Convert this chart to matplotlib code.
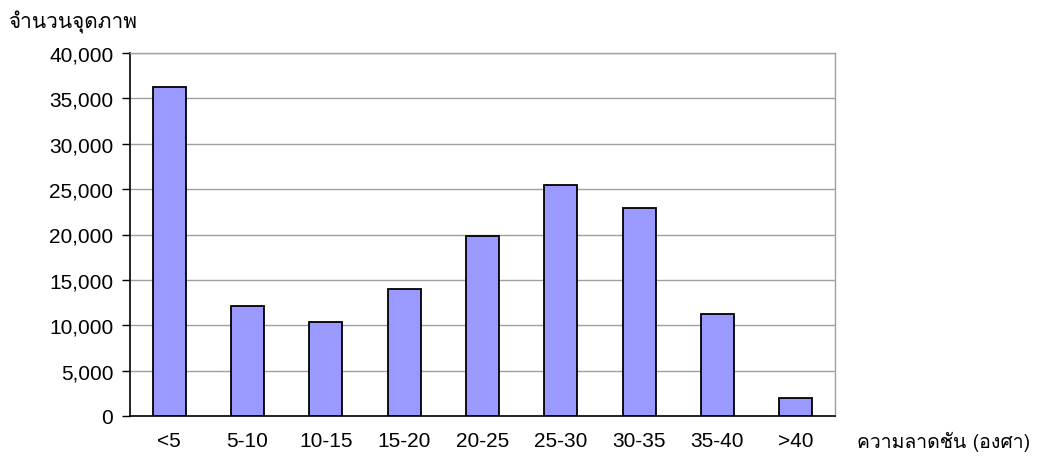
import matplotlib
matplotlib.use("Agg")
import matplotlib.pyplot as plt
from matplotlib.ticker import FuncFormatter, MultipleLocator

categories = ["<5", "5-10", "10-15", "15-20", "20-25", "25-30", "30-35", "35-40", ">40"]
pixel_counts = [36300, 12100, 10400, 14000, 19850, 25500, 22900, 11200, 2000]
y_label = "จำนวนจุดภาพ"
x_label = "ความลาดชัน (องศา)"

plt.rcParams["font.family"] = ["Liberation Sans", "Loma", "DejaVu Sans"]
thai_fonts = ["Loma", "Liberation Sans", "DejaVu Sans"]

fig = plt.figure(figsize=(10.45, 4.64), dpi=100)
ax = fig.add_axes([130 / 1045, 1 - 417 / 464, 705 / 1045, 363 / 464])

x = range(len(categories))
ax.bar(x, pixel_counts, width=0.42, color="#9999FF", edgecolor="black",
       linewidth=1.3, zorder=3)

ax.set_xlim(-0.5, len(categories) - 0.5)
ax.set_ylim(0, 40000)
ax.yaxis.set_major_locator(MultipleLocator(5000))
ax.yaxis.set_major_formatter(FuncFormatter(lambda v, p: f"{int(v):,}"))
ax.set_xticks(list(x))
ax.set_xticklabels(categories)

ax.grid(axis="y", color="#a0a0a0", linewidth=1.0, zorder=0)
ax.tick_params(axis="y", direction="out", length=6, width=1, labelsize=15, pad=6)
ax.tick_params(axis="x", length=0, labelsize=15, pad=11)

for side in ("left", "bottom"):
    ax.spines[side].set_color("black")
    ax.spines[side].set_linewidth(1.2)
for side in ("top", "right"):
    ax.spines[side].set_color("#a0a0a0")
    ax.spines[side].set_linewidth(1.0)

fig.text(8 / 1045, 1 - 22 / 464, y_label, fontsize=15, family=thai_fonts,
         ha="left", va="center")
fig.text(857 / 1045, 1 - 442 / 464, x_label, fontsize=14, family=thai_fonts,
         ha="left", va="center")

fig.savefig("out.png", dpi=100)
